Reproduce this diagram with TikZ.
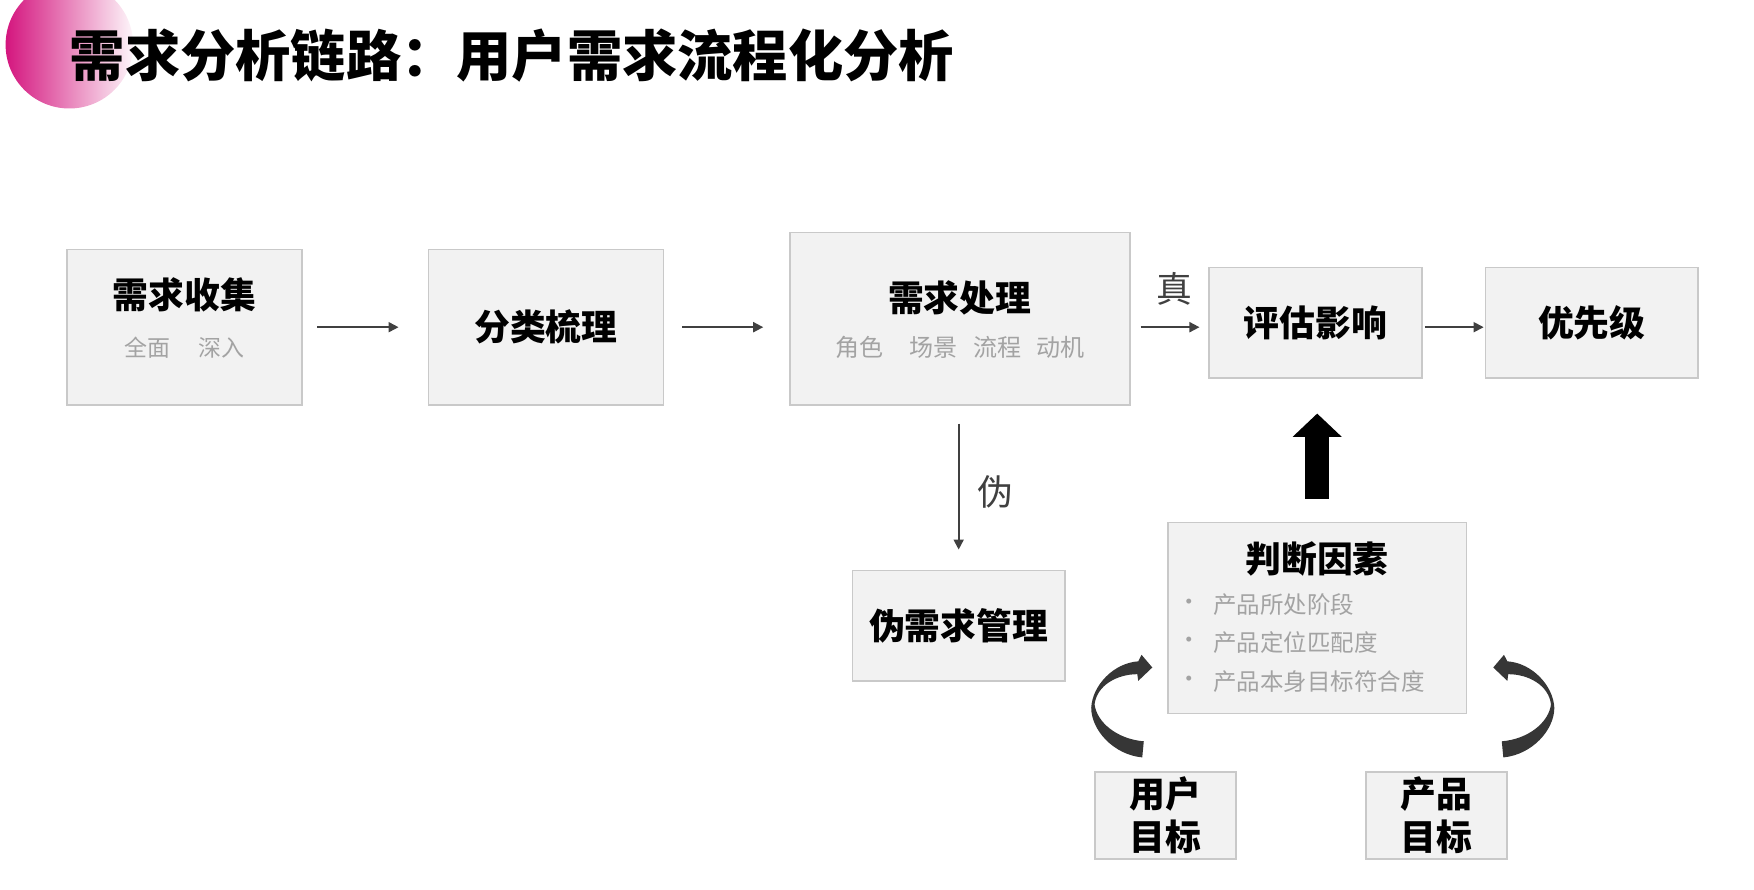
\documentclass[tikz,border=0pt]{standalone}
\usepackage{fontspec}
\setmainfont{Noto Sans CJK SC}
\usepackage{tikz}
\usetikzlibrary{calc}
\usetikzlibrary{arrows.meta}
\definecolor{boxfill}{HTML}{F2F2F2}
\definecolor{boxline}{HTML}{C9C9C9}
\definecolor{subgray}{HTML}{A3A3A3}
\definecolor{flowgray}{HTML}{404040}
\definecolor{curlgray}{HTML}{363636}
\definecolor{titlepink}{HTML}{D4157E}

\begin{document}
\begin{tikzpicture}[x=0.5pt, y=-0.5pt,
    box/.style={draw=boxline, fill=boxfill, line width=0.7pt, inner sep=0pt},
    head/.style={font=\fontsize{16}{19}\selectfont\bfseries, align=center},
    sub/.style={font=\fontsize{10.25}{12}\selectfont, text=subgray},
    flow/.style={draw=flowgray, line width=0.8pt, -{Triangle[length=4.5pt, width=4.5pt]}},
    tag/.style={font=\fontsize{16}{19}\selectfont, text=flowgray}]
    \useasboundingbox (0,0) rectangle (1568,795);
    % Title
    \begin{scope}
      \clip (0,0) rectangle (1568,795);
      \shade[left color=titlepink, right color=titlepink!4] (62,40) circle (57);
    \end{scope}
    \node[font=\fontsize{24.7}{26}\selectfont\bfseries, anchor=west, inner sep=0pt] (title) at (62,49.5) {需求分析链路：用户需求流程化分析};

    % Main chain
    \node[box, minimum width=105pt, minimum height=69.5pt] (collect) at (165,292.5) {};
    \node[head] (collect-t) at ([yshift=14.25pt]collect.center) {需求收集};
    \node[sub] (collect-s) at ([yshift=-9.25pt]collect.center) {全面\hspace{1.2em}深入};

    \node[box, head, minimum width=105pt, minimum height=69.5pt] (sort) at (488,292.5) {分类梳理};

    \node[box, minimum width=152pt, minimum height=77pt] (handle) at (858,285) {};
    \node[head] (handle-t) at ([yshift=9.5pt]handle.center) {需求处理};
    \node[sub, font=\fontsize{10.75}{12}\selectfont] (handle-s) at ([yshift=-13pt]handle.center) {角色\hspace{1.1em}场景\hspace{0.65em}流程\hspace{0.6em}动机};

    \node[box, head, minimum width=95pt, minimum height=49.5pt] (eval) at (1176,288.5) {评估影响};
    \node[box, head, minimum width=95pt, minimum height=49.5pt] (prio) at (1423,288.5) {优先级};

    \draw[flow, shorten <=6.5pt, shorten >=13pt] (collect.east) -- (sort.west);
    \draw[flow, shorten <=8pt, shorten >=11.5pt] (sort.east) -- (sort.east -| handle.west);
    \draw[flow, shorten <=4.5pt, shorten >=4pt] (handle.east |- collect.east) -- (eval.west |- collect.east);
    \draw[flow, shorten <=1pt, shorten >=0.5pt] (eval.east |- collect.east) -- (prio.west |- collect.east);
    \node[tag] (true) at (1050,258) {真};

    % False branch
    \node[box, head, minimum width=95pt, minimum height=49.5pt] (fake) at (857,559.5) {伪需求管理};
    \draw[flow, shorten <=8pt, shorten >=9pt] (fake.north |- handle.south) -- (fake.north);
    \node[tag] (false) at (890,440) {伪};

    % Factors
    \node[box, minimum width=133.5pt, minimum height=85.5pt] (judge) at (1177.5,552.5) {};
    \node[head] (judge-t) at ([yshift=-16.5pt]judge.north) {判断因素};
    \foreach \txt [count=\i] in {产品所处阶段, 产品定位匹配度, 产品本身目标符合度} {
      \node[sub, font=\fontsize{10.5}{12}\selectfont] (dot-\i) at ($(judge.north west)+(20,39.5+34.5*\i)$) {•};
      \node[sub, font=\fontsize{10.5}{12}\selectfont, anchor=west, inner sep=0pt] (item-\i) at ($(judge.north west)+(41,39.5+34.5*\i)$) {\txt};
    }
    \draw[black, line width=10.7pt, -{Triangle[length=10.4pt, width=21.3pt]}, shorten <=10.3pt, shorten >=15.5pt] (judge.north) -- (judge.north |- eval.south);

    \node[box, head, minimum width=63pt, minimum height=39pt] (uobj) at (1042,729) {用户\\目标};
    \node[box, head, minimum width=63pt, minimum height=39pt] (pobj) at (1284,729) {产品\\目标};

    % Curled arrows
    \foreach \side in {1,-1}
      \fill[curlgray, shift={([xshift=2.5pt]judge.south)}, xscale=\side]
        (-161.4,38.4) .. controls (-187,36) and (-207,14) .. (-207,-6)
        .. controls (-206,-26) and (-187,-46) .. (-165,-47.5)
        -- (-162,-53.3) -- (-152.4,-42) -- (-165,-30) -- (-165.8,-36)
        .. controls (-184,-36) and (-202,-26) .. (-204,-9)
        .. controls (-202,7) and (-184,22) .. (-160,24) -- cycle;
\end{tikzpicture}
\end{document}
